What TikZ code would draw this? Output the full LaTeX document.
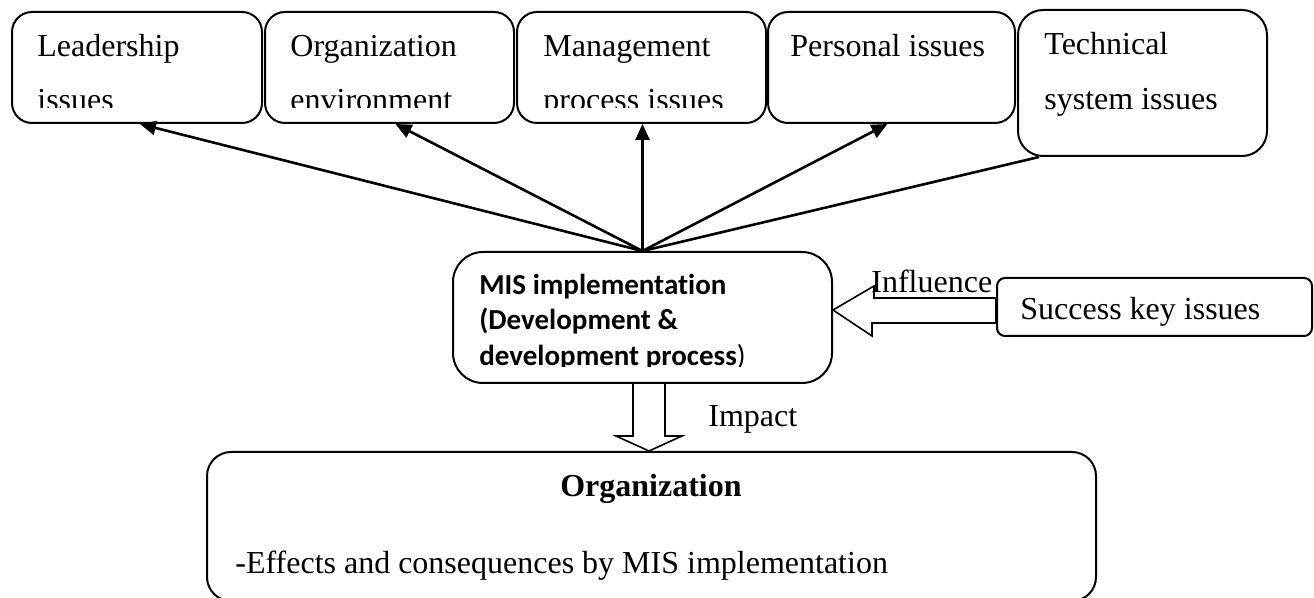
\documentclass[tikz,border=0pt]{standalone}
\usepackage{fontspec}
\setmainfont{Liberation Serif}
\newfontfamily\calib[Ligatures=NoCommon]{Carlito}
\usetikzlibrary{arrows.meta,fit,calc}
\begin{document}
\begin{tikzpicture}[x=0.5pt,y=-0.5pt,
  box/.style={draw, line width=1pt, inner sep=0pt, rounded corners=10pt},
  txt/.style={anchor=base west, inner sep=0pt, font=\fontsize{16pt}{19pt}\selectfont},
  mistxt/.style={anchor=base west, inner sep=0pt, font=\calib\bfseries\fontsize{14.5pt}{17pt}\selectfont},
  arr/.style={line width=1.3pt, -{Triangle[length=8pt,width=7pt]}},
  plain/.style={line width=1.3pt},
  blockarr/.style={draw, line width=0.8pt, line join=miter}]
\useasboundingbox (0,0) rectangle (1314,598);

% issue boxes along the top
\node[box, fit={(12,12) (262,123)}] (lead) {};
\node[box, fit={(265,12) (514,123)}] (orgenv) {};
\node[box, fit={(517,12) (766,123)}] (mgmt) {};
\node[box, fit={(768,12) (1015,123)}] (pers) {};
\node[box, rounded corners=12.5pt, fit={(1018,10) (1267,156)}] (tech) {};

% their texts, cut off at the lower inner margin
\begin{scope}
  \clip (12,12) rectangle (262,108);
  \node[txt] (leadA) at (37,57) {Leadership};
  \node[txt] (leadB) at (37,111) {issues};
\end{scope}
\begin{scope}
  \clip (265,12) rectangle (514,108);
  \node[txt] (orgA) at (290,57) {Organization};
  \node[txt] (orgB) at (290,111) {environment};
\end{scope}
\begin{scope}
  \clip (517,12) rectangle (766,108);
  \node[txt] (mgmtA) at (543,57) {Management};
  \node[txt] (mgmtB) at (543,111) {process issues};
\end{scope}
\node[txt] (persA) at (790,57) {Personal issues};
\node[txt] (techA) at (1044,55) {Technical};
\node[txt] (techB) at (1044,110) {system issues};

% central box
\node[box, rounded corners=15pt, fit={(453,252) (832,383)}] (mis) {};
\begin{scope}
  \clip (453,252) rectangle (832,367);
  \node[mistxt] (misA) at (479,295) {MIS implementation};
  \node[mistxt] (misB) at (479,330) {(Development \&};
  \node[mistxt] (misC) at (479,366) {development process{\mdseries)}};
\end{scope}

% success factors on the right
\node[box, rounded corners=4pt, fit={(997,278) (1312,336)}] (succ) {};
\node[txt] (succT) at (1020,320) {Success key issues};

% organization box at the bottom
\node[box, rounded corners=12pt, fit={(207,452) (1096,601)}] (orgn) {};
\node[anchor=base, inner sep=0pt, font=\bfseries\fontsize{16pt}{19pt}\selectfont] (orgnT) at (651,497) {Organization};
\node[txt] (orgnE) at (235,574) {-Effects and consequences by MIS implementation};

% connectors from the central box to the issues
\draw[arr] (mis.north) -- ($(lead.south)+(3,0)$);
\draw[arr] (mis.north) -- ($(orgenv.south)+(6,0)$);
\draw[arr] (mis.north) -- (mis.north |- mgmt.south);
\draw[arr] (mis.north) -- ($(pers.south)+(-4,0)$);
\draw[plain] (mis.north) -- ($(tech.south west)+(22,0)$);

% influence block arrow
\draw[blockarr] (mis.east |- 0,310) -- ++(41,-24) -- ++(0,12)
  -- (succ.west |- 0,298) -- (succ.west |- 0,323) -- (872,323) -- ++(0,13) -- cycle;
\node[txt] (infl) at (871,293) {Influence};

% impact block arrow
\draw[blockarr] (633,0 |- mis.south) -- (633,436) -- (616,436) -- (649,0 |- orgn.north)
  -- (682,436) -- (665,436) -- (665,0 |- mis.south);
\node[txt] (imp) at (708,427) {Impact};
\end{tikzpicture}
\end{document}
